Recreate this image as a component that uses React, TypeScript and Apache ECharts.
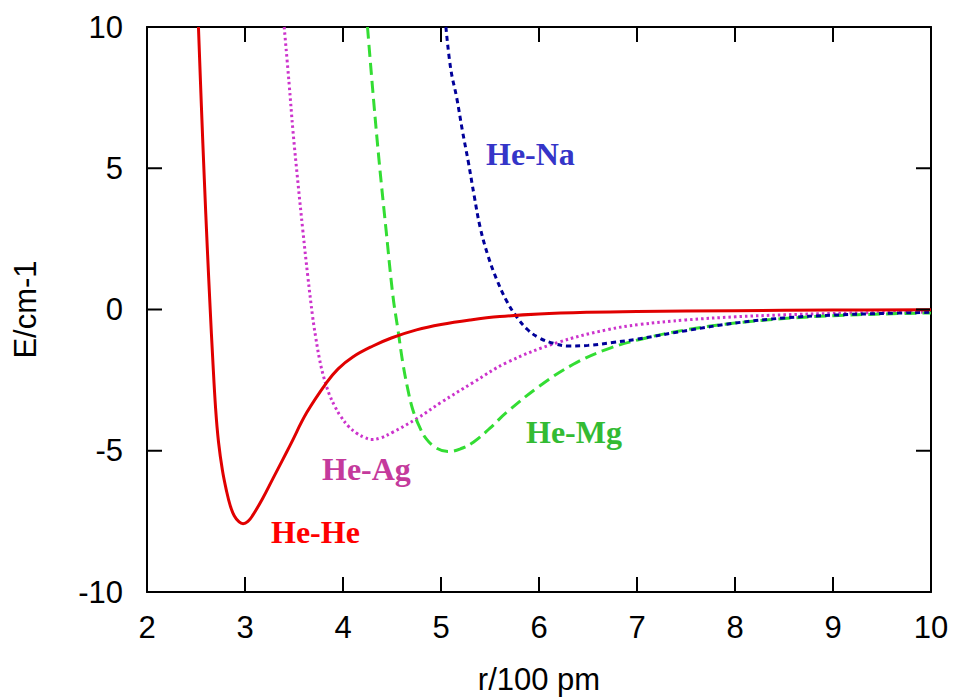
import React, { useEffect, useRef } from "react";
import * as echarts from "echarts";

const xTicks = [2, 3, 4, 5, 6, 7, 8, 9, 10];
const yTicks = [-10, -5, 0, 5, 10];

const heHe: number[][] = [
  [2.525, 10], [2.555, 7.2], [2.585, 4.6], [2.615, 2.2], [2.645, 0.0], [2.67, -1.7],
  [2.7, -3.5], [2.73, -4.7], [2.77, -5.7], [2.81, -6.4], [2.85, -6.95], [2.89, -7.3],
  [2.94, -7.52], [2.98, -7.58], [3.03, -7.5], [3.08, -7.28], [3.18, -6.69], [3.29, -5.95],
  [3.38, -5.35], [3.46, -4.81], [3.63, -3.65], [3.83, -2.6], [3.95, -2.1], [4.1, -1.68],
  [4.3, -1.3], [4.5, -1.0], [4.75, -0.72], [5.0, -0.53], [5.3, -0.37], [5.6, -0.25],
  [6.0, -0.16], [6.5, -0.1], [7, -0.07], [8, -0.04], [9, -0.02], [10, -0.01],
];

const heAg: number[][] = [
  [3.4, 10], [3.45, 8], [3.49, 6.3], [3.54, 4.5], [3.59, 2.8], [3.64, 1.2], [3.69, -0.25],
  [3.72, -0.95], [3.76, -1.75], [3.8, -2.35], [3.86, -3.0], [3.92, -3.45], [3.97, -3.75],
  [4.06, -4.15], [4.14, -4.38], [4.22, -4.53], [4.29, -4.6], [4.38, -4.55], [4.51, -4.34],
  [4.75, -3.87], [5.0, -3.29], [5.33, -2.58], [5.67, -1.88], [6.18, -1.18], [6.69, -0.72],
  [7.03, -0.53], [7.5, -0.37], [8, -0.26], [8.5, -0.19], [9, -0.14], [9.5, -0.11], [10, -0.09],
];

const heMg: number[][] = [
  [4.25, 10], [4.31, 7.5], [4.37, 5.2], [4.44, 2.8], [4.51, 0.47], [4.56, -0.7],
  [4.61, -1.88], [4.66, -2.8], [4.71, -3.52], [4.78, -4.15], [4.85, -4.58], [4.95, -4.9],
  [5.07, -5.03], [5.2, -4.93], [5.33, -4.7], [5.5, -4.2], [5.67, -3.64], [6.01, -2.7],
  [6.35, -1.94], [6.69, -1.41], [7.03, -1.06], [7.5, -0.72], [8, -0.48], [8.5, -0.32],
  [9, -0.22], [9.5, -0.16], [10, -0.12],
];

const heNa: number[][] = [
  [5.05, 10], [5.1, 8.5], [5.16, 7.5], [5.22, 6.3], [5.28, 5.2], [5.34, 4.0], [5.4, 2.9],
  [5.48, 1.9], [5.57, 1.05], [5.67, 0.3], [5.77, -0.25], [5.88, -0.7], [6.0, -1.0],
  [6.15, -1.2], [6.3, -1.29], [6.5, -1.27], [6.75, -1.17], [7.0, -1.05], [7.5, -0.75],
  [8.0, -0.48], [8.5, -0.3], [9.0, -0.2], [9.5, -0.14], [10, -0.1],
];

const seriesNames = ["He-He", "He-Ag", "He-Mg", "He-Na"];

const TICK_LEN = 15;
const mkLine = () => ({ show: true, onZero: false, lineStyle: { color: "#000", width: 2 } });
const mkFont = () => ({ fontFamily: "Liberation Sans", fontSize: 31, color: "#000" });

export default function App() {
  const ref = useRef<HTMLDivElement>(null);
  useEffect(() => {
    if (!ref.current) return;
    const chart = echarts.init(ref.current, undefined, { renderer: "svg" });
    const labelFont = { fontFamily: "Liberation Serif", fontWeight: "bold", fontSize: 32 } as any;
    const xMin = xTicks[0];
    const xMax = xTicks[xTicks.length - 1];
    const yMin = yTicks[0];
    const yMax = yTicks[yTicks.length - 1];
    const tickStyle = { stroke: "#000", lineWidth: 2, fill: null };
    const tickLine = (x1: number, y1: number, x2: number, y2: number) => ({
      type: "polyline",
      shape: { points: [[x1, y1], [x2, y2]] },
      style: tickStyle,
    });
    chart.setOption({
      animation: false,
      grid: { left: 147, right: 25, top: 27, bottom: 105 },
      xAxis: [
        {
          type: "value", min: xMin, max: xMax, interval: 1, position: "bottom",
          axisLine: mkLine(), axisTick: { show: false }, splitLine: { show: false },
          axisLabel: { ...mkFont(), margin: 20 },
          name: "r/100 pm", nameLocation: "middle", nameGap: 72,
          nameTextStyle: mkFont(),
        },
        {
          type: "value", min: xMin, max: xMax, interval: 1, position: "top",
          axisLine: mkLine(), axisTick: { show: false }, splitLine: { show: false }, axisLabel: { show: false },
        },
      ],
      yAxis: [
        {
          type: "value", min: yMin, max: yMax, interval: 5, position: "left",
          axisLine: mkLine(), axisTick: { show: false }, splitLine: { show: false },
          axisLabel: { ...mkFont(), margin: 24 },
          name: "E/cm-1", nameLocation: "middle", nameGap: 106,
          nameTextStyle: mkFont(),
        },
        {
          type: "value", min: yMin, max: yMax, interval: 5, position: "right",
          axisLine: mkLine(), axisTick: { show: false }, splitLine: { show: false }, axisLabel: { show: false },
        },
      ],
      series: [
        {
          name: seriesNames[0], type: "line", data: heHe, showSymbol: false, smooth: 0.4,
          lineStyle: { color: "#e00000", width: 3, type: "solid" }, z: 5,
        },
        {
          name: seriesNames[1], type: "line", data: heAg, showSymbol: false, smooth: 0.4,
          lineStyle: { color: "#cc33cc", width: 3, type: [2.5, 3] },
        },
        {
          name: seriesNames[2], type: "line", data: heMg, showSymbol: false, smooth: 0.4,
          lineStyle: { color: "#33dd33", width: 3, type: [12, 6] },
        },
        {
          name: seriesNames[3], type: "line", data: heNa, showSymbol: false, smooth: 0.4,
          lineStyle: { color: "#000099", width: 3, type: [5, 4] },
        },
        {
          name: "xTicks", type: "custom", silent: true, z: 10, clip: false,
          data: xTicks.slice(1, -1).map((v) => [v, yMin]),
          renderItem: (params: any, api: any) => {
            const v = api.value(0);
            const b = api.coord([v, yMin]);
            const t = api.coord([v, yMax]);
            return {
              type: "group",
              children: [
                tickLine(b[0], b[1] - 1, b[0], b[1] - TICK_LEN),
                tickLine(t[0], t[1] + 1, t[0], t[1] + TICK_LEN),
              ],
            };
          },
        },
        {
          name: "yTicks", type: "custom", silent: true, z: 10, clip: false,
          data: yTicks.slice(1, -1).map((v) => [xMin, v]),
          renderItem: (params: any, api: any) => {
            const v = api.value(1);
            const l = api.coord([xMin, v]);
            const r = api.coord([xMax, v]);
            return {
              type: "group",
              children: [
                tickLine(l[0] + 1, l[1], l[0] + TICK_LEN, l[1]),
                tickLine(r[0] - 1, r[1], r[0] - TICK_LEN, r[1]),
              ],
            };
          },
        },
      ],
      graphic: [
        { type: "text", left: 486, top: 138, style: { text: "He-Na", fill: "#3535c8", ...labelFont } },
        { type: "text", left: 526, top: 416, style: { text: "He-Mg", fill: "#33bb33", ...labelFont } },
        { type: "text", left: 322, top: 453, style: { text: "He-Ag", fill: "#c43a9c", ...labelFont } },
        { type: "text", left: 271, top: 516, style: { text: "He-He", fill: "#ff0000", ...labelFont } },
      ],
    });
    return () => chart.dispose();
  }, []);
  return (
    <div
      ref={ref}
      style={{ position: "fixed", left: 0, top: 0, width: 956, height: 700, background: "#fff" }}
    />
  );
}
